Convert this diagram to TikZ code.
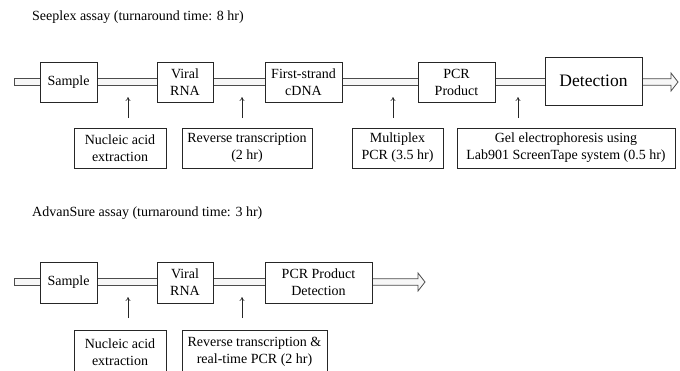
\documentclass[tikz,border=0pt]{standalone}
\usepackage{fontspec}
\setmainfont{Liberation Serif}
\usetikzlibrary{arrows.meta,calc}
\begin{document}
\begin{tikzpicture}[x=1pt,y=-1pt,
  box/.style={draw=black!85, line width=0.8pt, fill=white, inner sep=0pt, align=center,
    font=\fontsize{14}{17}\selectfont, minimum height=40pt},
  title/.style={anchor=west, inner sep=0pt, font=\fontsize{14}{17}\selectfont},
  pipebox/.style={draw=black!70, line width=0.8pt, fill=black!3},
  up/.style={draw=black!85, line width=0.6pt, -{To[length=4pt,width=5pt]}}]
\useasboundingbox (0,0) rectangle (680,370);
\clip (0,0) rectangle (680,370);
\fill[white] (0,0) rectangle (680,370);

% ---------- Seeplex ----------
\node[title] (T1) at (32,17) {Seeplex assay (turnaround time: 8 hr)};
\coordinate (L1) at (14,82);
\coordinate (E1) at (678,82);
\filldraw[pipebox] ($(L1)+(0,-3.3)$) rectangle ($(66,85.3)$);
\filldraw[pipebox] (70,78.7) rectangle (590,85.3);
\filldraw[pipebox] (620,78.7) -- ($(E1)+(-7,-3.3)$) -- ($(E1)+(-7,-9)$) -- (E1) -- ($(E1)+(-7,9)$) -- ($(E1)+(-7,3.3)$) -- (620,85.3) -- cycle;

\node[box, minimum width=57pt] (S1) at (68.5,82) {Sample};
\node[box, minimum width=56pt] (V1) at (185,82) {Viral\\RNA};
\node[box, minimum width=77pt] (F1) at (303.5,82) {First-strand\\cDNA};
\node[box, minimum width=77pt] (P1) at (456.5,82) {PCR\\Product};
\node[box, minimum width=97pt, minimum height=48pt, font=\fontsize{17.5}{20}\selectfont] (D1) at (593.5,81) {Detection};

\node[box, minimum width=92pt] (N1) at (120,148) {Nucleic acid\\extraction};
\node[box, minimum width=130pt] (R1) at (247,148) {Reverse transcription\\(2 hr)};
\node[box, minimum width=91pt] (M1) at (397.5,148) {Multiplex\\PCR (3.5 hr)};
\node[box, minimum width=218pt] (G1) at (566,148) {Gel electrophoresis using\\Lab901 ScreenTape system (0.5 hr)};

\foreach \i/\x in {1/128,2/242,3/393,4/518}{
  \coordinate (a\i b) at (\x,118);
  \coordinate (a\i t) at (\x,97);
  \draw[up] (a\i b) -- (a\i t);
}

% ---------- AdvanSure ----------
\node[title] (T2) at (32,213) {AdvanSure assay (turnaround time: 3 hr)};
\coordinate (L2) at (14,282);
\coordinate (E2) at (425,282);
\filldraw[pipebox] ($(L2)+(0,-3.3)$) rectangle (66,285.3);
\filldraw[pipebox] (70,278.7) rectangle (330,285.3);
\filldraw[pipebox] (340,278.7) -- ($(E2)+(-7,-3.3)$) -- ($(E2)+(-7,-9)$) -- (E2) -- ($(E2)+(-7,9)$) -- ($(E2)+(-7,3.3)$) -- (340,285.3) -- cycle;

\node[box, minimum width=57pt, minimum height=41pt] (S2) at (68.5,282.5) {Sample};
\node[box, minimum width=56pt, minimum height=41pt] (V2) at (185,282.5) {Viral\\RNA};
\node[box, minimum width=107pt, minimum height=41pt] (PD2) at (318.5,282.5) {PCR Product\\Detection};

\node[box, minimum width=92pt, minimum height=44pt] (N2) at (120,352) {Nucleic acid\\extraction};
\node[box, minimum width=145pt, minimum height=44pt] (R2) at (254.5,352) {Reverse transcription \&\\real-time PCR (2 hr)};

\foreach \i/\x in {5/128,6/242}{
  \coordinate (a\i b) at (\x,318);
  \coordinate (a\i t) at (\x,297);
  \draw[up] (a\i b) -- (a\i t);
}
\end{tikzpicture}
\end{document}
